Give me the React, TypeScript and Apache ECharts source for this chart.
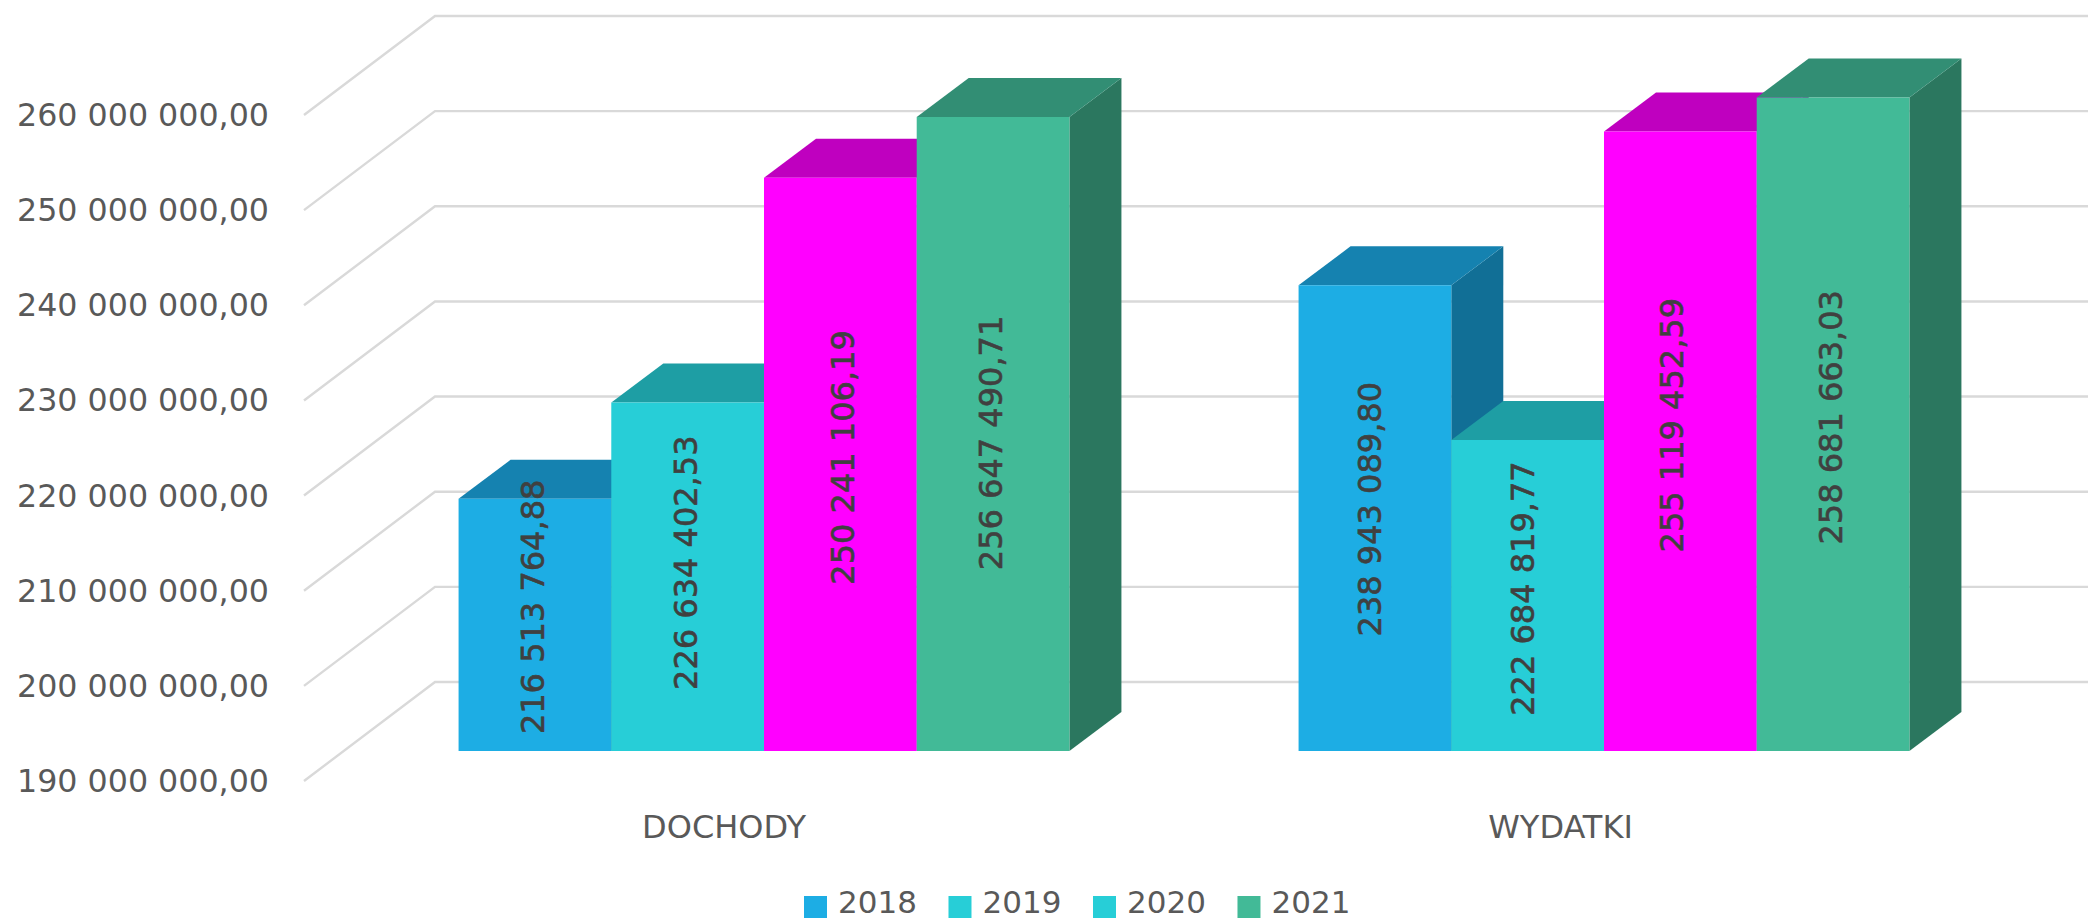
import React, { useEffect, useRef } from "react";
import * as echarts from "echarts";

const categories = ["DOCHODY", "WYDATKI"];
const years = ["2018", "2019", "2020", "2021"];
const values2018 = [216513764.88, 238943089.8];
const values2019 = [226634402.53, 222684819.77];
const values2020 = [250241106.19, 255119452.59];
const values2021 = [256647490.71, 258681663.03];
const yTicks = [190000000, 200000000, 210000000, 220000000, 230000000, 240000000, 250000000, 260000000];

const seriesValues = [values2018, values2019, values2020, values2021];
const legendColors = ["#1DADE4", "#27CED7", "#27CED7", "#42BA97"];
const frontColors = ["#1DADE4", "#27CED7", "#FF00FF", "#42BA97"];
const topColors = ["#1582B0", "#1E9EA4", "#BF00BF", "#328E74"];
const sideColors = ["#116F96", "#198790", "#A600A6", "#2B775F"];

const labelShifts = [
  [[-1.5, -18], [-5, -9]],
  [[-1.5, -14], [-4.5, -7]],
  [[3, -7], [-8, -16]],
  [[-2.5, 9], [-2.5, -7]],
];

const FONT = "'DejaVu Sans'";
const GREY = "#595959";
const WALL_DX = 131;
const WALL_DY = 99;
const BAR_DX = 40;
const BAR_DY = 30;
const DEPTH_DX = 52;
const DEPTH_DY = 39;
const BAR_RATIO = 0.1818;
// Legend key: a square in the lower part of its symbol box, so it sits below the text's centre.
const LEGEND_ICON = "path://M0,0L0,0M0,11L23,11L23,33L0,33Z";

const formatMoney = (v: number) => {
  const [whole, frac] = v.toFixed(2).split(".");
  return whole.replace(/\B(?=(\d{3})+$)/g, " ") + "," + frac;
};

export default function App() {
  const ref = useRef<HTMLDivElement>(null);
  useEffect(() => {
    if (!ref.current) return;
    const chart = echarts.init(ref.current, undefined, { renderer: "svg" });
    const gridSeries = {
      type: "custom",
      name: "grid",
      silent: true,
      z: 1,
      clip: false,
      encode: { y: 0 },
      data: yTicks.map((t) => [t]),
      renderItem: (params: any, api: any) => {
        const y = api.coord([0, api.value(0)])[1];
        const cs = params.coordSys;
        return {
          type: "polyline",
          shape: {
            points: [
              [cs.x, y],
              [cs.x + WALL_DX, y - WALL_DY],
              [cs.x + cs.width + WALL_DX, y - WALL_DY],
            ],
          },
          style: { stroke: "#D9D9D9", lineWidth: 2.4, fill: "none" },
        };
      },
    };
    const barSeries = years.map((year, s) => ({
      type: "custom",
      name: year,
      silent: true,
      z: 2 + s,
      clip: false,
      itemStyle: { color: legendColors[s] },
      encode: { x: 0, y: 1 },
      data: categories.map((_, i) => [i, seriesValues[s][i]]),
      renderItem: (params: any, api: any) => {
        const cat = api.value(0);
        const val = api.value(1);
        const band = api.size([1, 0])[0];
        const w = band * BAR_RATIO;
        const top = api.coord([cat, val]);
        const base = api.coord([cat, yTicks[0]]);
        const x0 = top[0] + BAR_DX - 2 * w + s * w;
        const x1 = x0 + w;
        const yT = top[1] - BAR_DY;
        const yB = base[1] - BAR_DY;
        const shift = labelShifts[s][cat];
        return {
          type: "group",
          children: [
            {
              type: "polygon",
              shape: { points: [[x1, yT], [x1 + DEPTH_DX, yT - DEPTH_DY], [x1 + DEPTH_DX, yB - DEPTH_DY], [x1, yB]] },
              style: { fill: sideColors[s] },
            },
            {
              type: "polygon",
              shape: { points: [[x0, yT], [x0 + DEPTH_DX, yT - DEPTH_DY], [x1 + DEPTH_DX, yT - DEPTH_DY], [x1, yT]] },
              style: { fill: topColors[s] },
            },
            {
              type: "rect",
              shape: { x: x0, y: yT, width: w, height: yB - yT },
              style: { fill: frontColors[s] },
            },
            {
              type: "text",
              x: (x0 + x1) / 2 + shift[0],
              y: (yT + yB) / 2 + shift[1],
              rotation: Math.PI / 2,
              style: {
                text: formatMoney(val),
                fontFamily: FONT,
                fontSize: 32,
                fill: "#404040",
                stroke: "#404040",
                lineWidth: 0.6,
                align: "center",
                verticalAlign: "middle",
              },
            },
          ],
        };
      },
    }));
    chart.setOption({
      animation: false,
      grid: { left: 304, top: 115, width: 1680, height: 666, containLabel: false },
      legend: {
        data: years,
        left: 804,
        top: 885,
        icon: LEGEND_ICON,
        itemWidth: 23,
        itemHeight: 33,
        itemGap: 31.6,
        padding: 0,
        selectedMode: false,
        textStyle: { fontFamily: FONT, fontSize: 31, color: GREY, padding: [0, 0, 0, 6] },
      },
      xAxis: {
        type: "category",
        data: categories,
        axisLine: { show: false },
        axisTick: { show: false },
        axisLabel: {
          fontFamily: FONT,
          fontSize: 32,
          color: GREY,
          margin: 30,
          formatter: (v: string, i: number) => (i === 1 ? `{shifted|${v}}` : v),
          rich: { shifted: { fontFamily: FONT, fontSize: 32, color: GREY, padding: [0, 7, 0, 0] } },
        },
      },
      yAxis: {
        type: "value",
        min: 190000000,
        max: 260000000,
        interval: 10000000,
        axisLine: { show: false },
        axisTick: { show: false },
        splitLine: { show: false },
        axisLabel: {
          fontFamily: FONT,
          fontSize: 31.7,
          color: GREY,
          margin: 35,
          padding: [0, 0, 5, 0],
          formatter: (v: number) => formatMoney(v),
        },
      },
      series: [gridSeries, ...barSeries],
    });
    return () => chart.dispose();
  }, []);
  return <div ref={ref} style={{ position: "absolute", left: 0, top: 0, width: 2088, height: 918 }} />;
}
